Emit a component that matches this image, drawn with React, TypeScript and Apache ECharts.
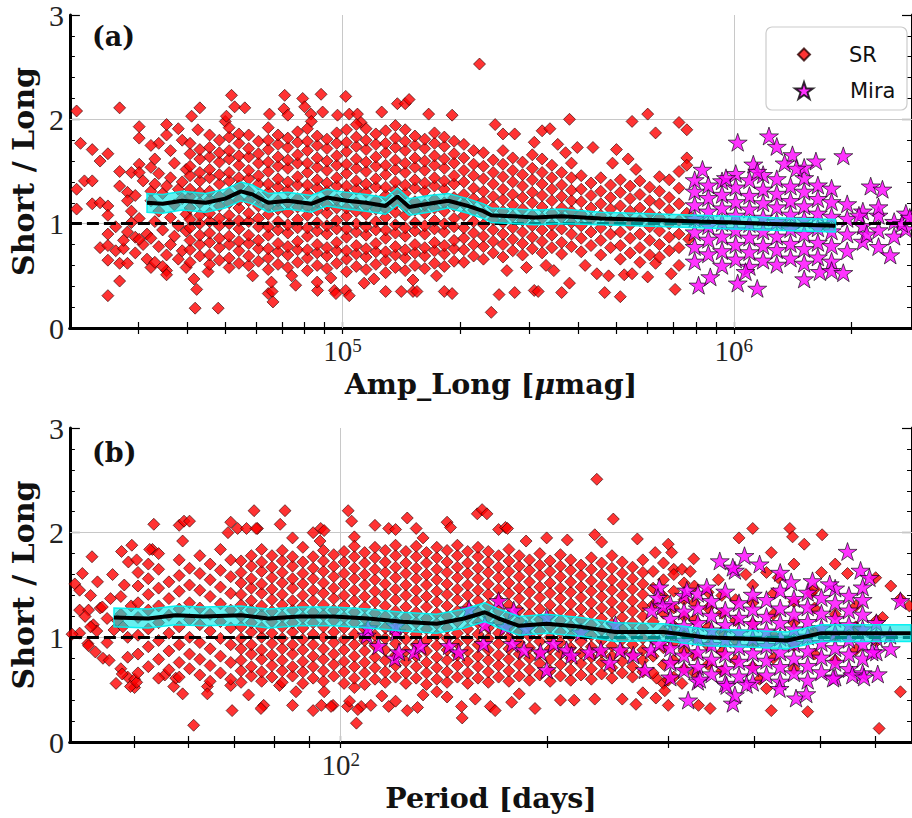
import React, { useEffect, useRef } from 'react';
import * as echarts from 'echarts';

// ---------- Panel (a): x = log10(Amp_Long [μmag]), y = Short / Long ----------
// isolated / edge points, flat pairs [log10(x), y, ...]
const srA_out = [
  4.32,2.08, 4.33,1.77, 4.32,1.33, 4.32,1.14, 4.43,2.11, 4.36,1.71, 4.40,1.67, 4.38,1.60, 4.34,1.41, 4.36,1.41,
  4.36,1.19, 4.38,1.20, 4.40,1.17, 4.40,1.08, 4.38,0.77, 4.40,0.79, 4.40,0.90, 4.42,0.74, 4.44,0.76, 4.40,0.65,
  4.43,0.62, 4.43,0.45, 4.40,0.31, 4.43,1.50, 4.43,1.36, 4.45,1.30, 4.45,1.22, 4.42,0.97, 4.45,0.92, 4.44,0.84,
  4.48,1.93, 4.48,1.82, 4.48,1.57, 4.46,1.49, 4.48,1.49, 4.49,1.41, 4.47,1.27, 4.46,1.12, 4.51,1.54, 4.51,0.58,
  4.53,1.77, 4.55,1.85, 4.55,0.55, 4.55,0.51, 4.48,1.05, 4.47,0.87, 4.49,0.80, 4.47,0.72, 4.50,0.66, 4.45,0.62,
  4.51,1.31, 4.51,1.22, 4.48,0.85, 4.50,0.90, 4.46,1.01,
  4.51,1.75, 4.52,1.62, 4.53,1.48, 4.52,1.38, 4.54,1.29, 4.53,1.12, 4.52,1.02, 4.54,0.94, 4.51,0.86, 4.53,0.78,
  4.55,0.70, 4.52,0.63, 4.56,1.70, 4.57,1.58, 4.56,1.44, 4.58,1.33, 4.57,1.18, 4.56,1.06, 4.58,0.98, 4.57,0.88,
  4.56,0.80, 4.58,0.66, 4.59,1.80, 4.60,1.52, 4.59,1.24, 4.60,1.09, 4.59,0.74, 4.60,0.58, 4.55,1.95, 4.58,1.91,
  4.54,0.59, 4.59,1.40, 4.55,1.36, 4.60,0.93,
  4.62,0.47, 4.623,0.19, 4.627,0.37, 4.614,2.03, 4.635,2.11, 4.63,1.90, 4.656,0.54, 4.682,0.19, 4.70,1.98, 4.703,2.03,
  4.716,2.23, 4.724,2.12, 4.75,2.11, 4.77,0.50, 4.813,2.05, 4.81,0.33, 4.82,0.35, 4.822,0.25, 4.818,0.44, 4.852,2.23,
  4.85,2.10, 4.86,2.04, 4.88,0.41, 4.87,0.50, 4.898,2.20, 4.903,2.12, 4.919,2.05, 4.92,1.98, 4.936,0.36, 4.935,0.44,
  4.945,2.24, 4.949,2.07, 4.979,0.36, 4.983,0.33, 4.987,2.04, 4.97,0.48, 5.008,2.22, 5.017,2.05, 5.038,2.05, 5.008,0.36,
  5.017,0.31, 5.047,1.97, 5.055,0.43, 5.10,2.07, 5.08,0.47, 5.11,0.35, 5.14,2.15, 5.16,2.15, 5.17,2.19, 5.15,0.35,
  5.18,0.35, 5.19,0.35, 5.18,0.46, 5.22,2.05, 5.24,0.50, 5.26,0.35, 5.28,0.33, 5.28,2.04, 5.35,2.53,
  5.38,0.15, 5.39,1.95, 5.41,1.86, 5.40,0.32, 5.44,1.86, 5.44,0.34, 5.42,0.55, 5.49,0.36, 5.50,0.35, 5.47,0.58,
  5.49,1.78, 5.51,1.89, 5.53,1.91, 5.52,0.60, 5.54,0.55, 5.55,1.76, 5.58,2.00, 5.56,0.34, 5.58,0.43, 5.57,1.68,
  5.60,1.73, 5.64,1.73, 5.62,0.60, 5.65,0.52, 5.67,0.34, 5.68,0.50, 5.70,1.71, 5.69,1.58, 5.71,0.30, 5.72,0.51,
  5.74,0.52, 5.74,1.98, 5.73,1.62, 5.75,1.52, 5.78,2.05, 5.80,1.87, 5.78,0.49, 5.80,0.62, 5.84,0.52, 5.86,0.60,
  5.86,1.97, 5.88,1.90, 5.88,1.63, 5.88,1.56, 5.85,0.37, 5.88,1.10, 5.885,0.85,
];
// dense body, rows of [log10(x), y1, y2, ...]
const srA_core = [
  [4.61, 0.63,0.75,0.84,0.96,1.04,1.15,1.26,1.33,1.46,1.55,1.67,1.77],
  [4.635, 0.69,0.80,0.89,1.00,1.08,1.20,1.30,1.41,1.49,1.62,1.71],
  [4.66, 0.61,0.70,0.82,0.91,1.02,1.10,1.23,1.31,1.44,1.52,1.64,1.73,1.85],
  [4.685, 0.65,0.77,0.86,0.98,1.05,1.17,1.26,1.38,1.47,1.59,1.68,1.80],
  [4.71, 0.58,0.67,0.80,0.88,1.00,1.08,1.20,1.29,1.41,1.49,1.62,1.70,1.83,1.92],
  [4.735, 0.62,0.74,0.83,0.95,1.03,1.15,1.23,1.36,1.44,1.56,1.65,1.77,1.86],
  [4.76, 0.60,0.69,0.81,0.89,1.02,1.10,1.22,1.31,1.43,1.51,1.64,1.72,1.85],
  [4.785, 0.64,0.76,0.84,0.97,1.05,1.17,1.25,1.38,1.46,1.58,1.67,1.79],
  [4.81, 0.56,0.67,0.76,0.89,0.97,1.09,1.17,1.30,1.38,1.50,1.59,1.71,1.80,1.92],
  [4.835, 0.61,0.73,0.81,0.94,1.02,1.14,1.22,1.35,1.43,1.55,1.64,1.76,1.85],
  [4.86, 0.58,0.70,0.78,0.91,0.99,1.11,1.20,1.32,1.40,1.53,1.61,1.73,1.82],
  [4.885, 0.63,0.75,0.83,0.96,1.04,1.16,1.24,1.37,1.45,1.58,1.66,1.78,1.88],
  [4.91, 0.55,0.67,0.75,0.88,0.96,1.08,1.16,1.29,1.37,1.49,1.58,1.70,1.79,1.91],
  [4.935, 0.60,0.72,0.80,0.93,1.01,1.13,1.21,1.34,1.42,1.54,1.63,1.75,1.84],
  [4.96, 0.57,0.69,0.77,0.90,0.98,1.10,1.18,1.31,1.39,1.51,1.60,1.72,1.81],
  [4.985, 0.62,0.74,0.82,0.95,1.03,1.15,1.23,1.36,1.44,1.56,1.65,1.77,1.87],
  [5.01, 0.54,0.66,0.74,0.87,0.95,1.07,1.15,1.28,1.36,1.48,1.57,1.69,1.78,1.90],
  [5.035, 0.59,0.71,0.79,0.92,1.00,1.12,1.20,1.33,1.41,1.53,1.62,1.74,1.83,1.95],
  [5.06, 0.56,0.68,0.76,0.89,0.97,1.09,1.17,1.30,1.38,1.50,1.59,1.71,1.80,1.91],
  [5.085, 0.61,0.73,0.81,0.94,1.02,1.14,1.22,1.35,1.43,1.55,1.64,1.76,1.86],
  [5.11, 0.53,0.65,0.73,0.86,0.94,1.06,1.14,1.27,1.35,1.47,1.56,1.68,1.77,1.89],
  [5.135, 0.58,0.70,0.78,0.91,0.99,1.11,1.19,1.32,1.40,1.52,1.61,1.73,1.82,1.94],
  [5.16, 0.55,0.67,0.75,0.88,0.96,1.08,1.16,1.29,1.37,1.49,1.58,1.70,1.79,1.90],
  [5.185, 0.60,0.72,0.80,0.93,1.01,1.13,1.21,1.34,1.42,1.54,1.63,1.75,1.84],
  [5.21, 0.57,0.69,0.77,0.90,0.98,1.10,1.18,1.31,1.39,1.51,1.60,1.72,1.81],
  [5.235, 0.62,0.74,0.82,0.95,1.03,1.15,1.23,1.36,1.44,1.56,1.65,1.77,1.87],
  [5.26, 0.59,0.71,0.79,0.92,1.00,1.12,1.20,1.33,1.41,1.53,1.62,1.74,1.83],
  [5.285, 0.64,0.76,0.84,0.97,1.05,1.17,1.25,1.38,1.46,1.58,1.67,1.79],
  [5.31, 0.63,0.75,0.86,0.96,1.08,1.19,1.28,1.40,1.51,1.63,1.76],
  [5.335, 0.69,0.80,0.91,1.02,1.13,1.24,1.34,1.46,1.57,1.70],
  [5.36, 0.66,0.78,0.88,0.99,1.10,1.21,1.31,1.43,1.55,1.68],
  [5.385, 0.72,0.83,0.94,1.04,1.16,1.26,1.38,1.49,1.61],
  [5.41, 0.68,0.80,0.90,1.01,1.12,1.23,1.33,1.45,1.57,1.70],
  [5.435, 0.74,0.85,0.96,1.07,1.18,1.28,1.40,1.51,1.63],
  [5.46, 0.70,0.81,0.92,1.03,1.14,1.25,1.36,1.47,1.59],
  [5.485, 0.76,0.87,0.98,1.08,1.20,1.30,1.42,1.53,1.66],
  [5.51, 0.72,0.83,0.94,1.05,1.16,1.27,1.38,1.49,1.62],
  [5.535, 0.77,0.89,0.99,1.10,1.22,1.33,1.44,1.56],
  [5.56, 0.71,0.82,0.95,1.06,1.15,1.26,1.37,1.49],
  [5.585, 0.78,0.90,1.01,1.12,1.22,1.32,1.44,1.58],
  [5.61, 0.73,0.86,0.98,1.09,1.21,1.33,1.46],
  [5.635, 0.79,0.92,1.04,1.15,1.27,1.39],
  [5.66, 0.70,0.84,0.96,1.08,1.19,1.31,1.44],
  [5.685, 0.77,0.90,1.02,1.14,1.25,1.37],
  [5.71, 0.66,0.79,0.92,1.05,1.17,1.30,1.42],
  [5.735, 0.72,0.86,0.99,1.12,1.24,1.36],
  [5.76, 0.63,0.77,0.90,1.03,1.15,1.28,1.41],
  [5.785, 0.70,0.84,0.97,1.10,1.22,1.35],
  [5.81, 0.68,0.80,0.93,1.06,1.19,1.31,1.45],
  [5.835, 0.74,0.87,1.00,1.13,1.25,1.42],
  [5.86, 0.77,0.90,1.03,1.19,1.34,1.50],
];
const miraA_core = [
  [5.90, 0.64,0.78,0.92,1.05,1.18,1.31,1.42],
  [5.935, 0.71,0.85,0.98,1.12,1.25,1.37],
  [5.97, 0.60,0.74,0.88,1.01,1.15,1.28,1.41],
  [6.005, 0.66,0.80,0.94,1.08,1.21,1.35,1.48],
  [6.04, 0.59,0.73,0.87,1.00,1.14,1.27,1.42],
  [6.075, 0.65,0.79,0.93,1.06,1.20,1.33,1.47],
  [6.11, 0.61,0.75,0.88,1.02,1.16,1.29,1.43],
  [6.145, 0.67,0.81,0.95,1.09,1.22,1.36],
  [6.18, 0.62,0.76,0.90,1.04,1.17,1.31,1.44],
  [6.215, 0.68,0.82,0.96,1.10,1.24,1.37],
  [6.25, 0.64,0.79,0.93,1.07,1.21,1.34],
  [6.29, 0.74,0.90,1.05,1.19],
  [6.33, 0.83,0.98,1.12],
  [6.37, 0.78,0.94,1.08],
  [6.41, 0.88,1.02],
  [6.44, 0.95,1.10],
];
const miraA_out = [
  6.01,1.78, 6.09,1.84, 6.11,1.74, 6.15,1.66, 6.21,1.60, 6.18,1.54, 6.28,1.65, 6.35,1.36, 6.38,1.33, 6.37,1.16,
  6.40,0.70, 5.98,1.44, 6.05,1.57, 6.06,1.50, 5.91,0.41, 5.94,0.49, 6.01,0.43, 6.06,0.38, 6.18,0.47, 6.22,0.54,
  6.25,0.55, 6.28,0.53, 6.03,0.54, 6.43,1.00, 6.45,1.06, 6.32,1.08, 6.34,0.90, 5.92,1.52, 6.13,1.58, 6.16,1.53,
];
// running mean (a)
const avgA_L = [4.50,4.54,4.59,4.65,4.70,4.74,4.77,4.81,4.86,4.92,4.96,5.01,5.06,5.11,5.14,5.17,5.22,5.27,5.32,5.36,5.38,5.44,5.49,5.56,5.66,5.75,5.83,5.91,6.00,6.08,6.17,6.26];
const avgA_y = [1.20,1.19,1.22,1.20,1.24,1.31,1.28,1.20,1.22,1.19,1.25,1.22,1.20,1.17,1.26,1.16,1.19,1.22,1.17,1.12,1.08,1.07,1.06,1.07,1.05,1.04,1.03,1.02,1.01,1.00,0.99,0.98];
const halfA = [0.09,0.09,0.09,0.09,0.09,0.09,0.09,0.09,0.08,0.08,0.08,0.08,0.08,0.08,0.08,0.08,0.08,0.07,0.07,0.07,0.07,0.07,0.07,0.07,0.06,0.06,0.06,0.06,0.06,0.06,0.06,0.06];

// ---------- Panel (b): x = log10(Period [days]) ----------
const srB_out = [
  1.613,1.51, 1.624,1.61, 1.62,1.26, 1.633,1.26, 1.62,1.45, 1.62,1.04, 1.638,1.77, 1.646,1.53, 1.64,1.12, 1.645,1.06,
  1.632,0.94, 1.654,0.80, 1.663,0.78, 1.65,1.28, 1.66,1.18, 1.67,1.07, 1.668,1.60, 1.681,1.82, 1.696,1.88, 1.68,1.39,
  1.685,1.50, 1.68,1.22, 1.683,1.10, 1.673,0.56, 1.69,0.62, 1.70,0.52, 1.70,0.60, 1.68,0.70, 1.69,0.81, 1.636,1.40,
  1.653,1.29, 1.665,1.37, 1.609,1.03, 1.636,1.10, 1.633,0.92, 1.643,0.86, 1.682,0.65, 1.694,0.53, 1.691,1.72,
  1.703,1.74, 1.628,1.20, 1.66,0.95, 1.69,1.00, 1.675,1.16, 1.695,1.30,
  1.728,2.08, 1.726,1.84, 1.765,2.07, 1.772,2.11, 1.78,2.11, 1.77,1.92, 1.84,2.10, 1.85,2.04, 1.874,2.21, 1.879,2.04,
  1.919,2.21, 1.912,2.08, 2.011,2.21, 2.016,2.11, 1.96,2.00, 1.97,1.92, 1.836,2.00, 1.863,2.04, 1.877,2.04, 1.971,2.04,
  1.976,2.02, 1.722,1.84, 2.097,2.14, 2.155,2.10, 2.16,2.05, 2.199,2.18, 2.206,2.22, 2.213,2.18, 2.05,2.07, 2.07,2.04,
  2.08,2.03, 2.11,2.04, 2.23,2.03, 2.24,2.05, 2.37,1.98, 2.38,1.91, 2.30,1.95, 2.33,1.93, 2.27,1.92, 2.12,1.95,
  2.02,1.96, 1.93,1.95, 2.373,2.51, 2.397,2.13, 2.432,1.94, 2.243,2.04,
  1.786,0.16, 1.77,0.46, 1.757,0.53, 1.806,0.53, 1.806,0.46, 1.842,0.30, 1.866,0.45, 1.888,0.35, 1.93,0.35, 1.96,0.30,
  1.972,0.35, 1.989,0.35, 2.023,0.18, 2.01,0.34, 2.03,0.34, 1.703,0.57, 1.744,0.64, 1.76,0.61, 1.84,0.54, 1.884,0.32,
  1.911,0.54, 1.935,0.48, 1.986,0.34, 1.976,0.48, 2.013,0.39, 2.025,0.31, 2.02,0.52, 2.177,0.23, 2.176,0.34, 2.155,0.43,
  2.097,0.30, 2.112,0.33, 2.07,0.34, 2.08,0.39, 2.196,0.41, 2.218,0.34, 2.225,0.30, 2.249,0.38, 2.283,0.32, 2.32,0.40,
  2.34,0.40, 2.37,0.41, 2.41,0.41, 2.43,0.36, 2.44,0.47, 2.459,0.42, 2.47,0.56, 2.46,0.61, 2.044,0.35, 2.12,0.45,
  2.26,0.46, 2.14,0.48, 2.06,0.44,
  2.600,2.04, 2.654,2.04, 2.658,1.96, 2.701,1.98, 2.675,1.89, 2.58,1.95, 2.477,1.89, 2.482,1.81, 2.458,1.81, 2.514,1.75,
  2.627,1.81, 2.485,1.65, 2.497,1.65, 2.509,1.63, 2.62,1.62, 2.637,1.57, 2.70,1.62, 2.738,1.61, 2.779,1.57, 2.801,1.49,
  2.789,1.19, 2.685,1.42, 2.815,0.48, 2.784,0.13, 2.68,0.29, 2.627,0.30, 2.538,0.32, 2.521,0.35, 2.477,0.35, 2.62,0.51,
  2.61,0.60, 2.477,0.59, 2.497,0.56, 2.472,0.49, 2.828,1.30, 2.815,1.37, 2.55,1.55, 2.59,1.60, 2.66,1.70, 2.72,1.70,
];
const srB_core = [
  [1.705, 0.66,0.84,1.02,1.19,1.33,1.49,1.62],
  [1.72, 0.72,0.91,1.08,1.26,1.41,1.56,1.70],
  [1.735, 0.61,0.79,0.97,1.14,1.30,1.47,1.65,1.80],
  [1.75, 0.69,0.87,1.04,1.21,1.37,1.53],
  [1.765, 0.62,0.76,0.93,1.10,1.27,1.44,1.59,1.74],
  [1.78, 0.70,0.84,1.00,1.17,1.33,1.50,1.66],
  [1.795, 0.64,0.79,0.95,1.12,1.28,1.45,1.61,1.78],
  [1.81, 0.58,0.73,0.89,1.06,1.22,1.39,1.55,1.70],
  [1.825, 0.66,0.82,0.99,1.15,1.32,1.48,1.64,1.84],
  [1.84, 0.60,0.76,0.93,1.09,1.26,1.42,1.58,1.74],
  [1.855, 0.57,0.68,0.78,0.89,0.99,1.10,1.20,1.31,1.41,1.52,1.62,1.73],
  [1.87, 0.63,0.72,0.84,0.93,1.05,1.14,1.26,1.35,1.47,1.56,1.68,1.78],
  [1.885, 0.58,0.67,0.79,0.88,1.00,1.09,1.21,1.30,1.42,1.51,1.63,1.72,1.84],
  [1.90, 0.62,0.73,0.83,0.94,1.04,1.15,1.25,1.36,1.46,1.57,1.67,1.78],
  [1.915, 0.57,0.68,0.78,0.89,0.99,1.10,1.20,1.31,1.41,1.52,1.62,1.73,1.83],
  [1.93, 0.63,0.72,0.84,0.93,1.05,1.14,1.26,1.35,1.47,1.56,1.68,1.77],
  [1.945, 0.56,0.67,0.77,0.88,0.98,1.09,1.19,1.30,1.40,1.51,1.61,1.72,1.86],
  [1.96, 0.61,0.72,0.82,0.93,1.03,1.14,1.24,1.35,1.45,1.56,1.66,1.77],
  [1.975, 0.58,0.68,0.79,0.89,1.00,1.10,1.21,1.31,1.42,1.52,1.63,1.73,1.83],
  [1.99, 0.63,0.74,0.84,0.95,1.05,1.16,1.26,1.37,1.47,1.58,1.68,1.79],
  [2.005, 0.56,0.67,0.77,0.88,0.98,1.09,1.19,1.30,1.40,1.51,1.61,1.72,1.82],
  [2.02, 0.61,0.72,0.82,0.93,1.03,1.14,1.24,1.35,1.45,1.56,1.66,1.77,1.87],
  [2.035, 0.55,0.66,0.76,0.87,0.97,1.08,1.18,1.29,1.39,1.50,1.60,1.71,1.81],
  [2.05, 0.60,0.71,0.81,0.92,1.02,1.13,1.23,1.34,1.44,1.55,1.65,1.76,1.86],
  [2.065, 0.57,0.67,0.78,0.88,0.99,1.09,1.20,1.30,1.41,1.51,1.62,1.72,1.83],
  [2.08, 0.62,0.73,0.83,0.94,1.04,1.15,1.25,1.36,1.46,1.57,1.67,1.78,1.88],
  [2.095, 0.56,0.66,0.77,0.87,0.98,1.08,1.19,1.29,1.40,1.50,1.61,1.71,1.82],
  [2.11, 0.61,0.72,0.82,0.93,1.03,1.14,1.24,1.35,1.45,1.56,1.66,1.77,1.87],
  [2.125, 0.55,0.66,0.76,0.87,0.97,1.08,1.18,1.29,1.39,1.50,1.60,1.71,1.81],
  [2.14, 0.60,0.71,0.81,0.92,1.02,1.13,1.23,1.34,1.44,1.55,1.65,1.76,1.86],
  [2.155, 0.57,0.67,0.78,0.88,0.99,1.09,1.20,1.30,1.41,1.51,1.62,1.72,1.83],
  [2.17, 0.62,0.73,0.83,0.94,1.04,1.15,1.25,1.36,1.46,1.57,1.67,1.78,1.88],
  [2.185, 0.56,0.66,0.77,0.87,0.98,1.08,1.19,1.29,1.40,1.50,1.61,1.71,1.82],
  [2.20, 0.61,0.72,0.82,0.93,1.03,1.14,1.24,1.35,1.45,1.56,1.66,1.77,1.86],
  [2.215, 0.57,0.67,0.78,0.88,0.99,1.09,1.20,1.30,1.41,1.51,1.62,1.72,1.82],
  [2.23, 0.62,0.73,0.83,0.94,1.04,1.15,1.25,1.36,1.46,1.57,1.67,1.78],
  [2.245, 0.58,0.68,0.79,0.89,1.00,1.10,1.21,1.31,1.42,1.52,1.63,1.73,1.84],
  [2.26, 0.63,0.74,0.84,0.95,1.05,1.16,1.26,1.37,1.47,1.58,1.68,1.78],
  [2.275, 0.59,0.69,0.80,0.90,1.01,1.11,1.22,1.32,1.43,1.53,1.64,1.74],
  [2.29, 0.64,0.75,0.85,0.96,1.06,1.17,1.27,1.38,1.48,1.59,1.69,1.80],
  [2.305, 0.58,0.68,0.79,0.89,1.00,1.10,1.21,1.31,1.42,1.52,1.63,1.73],
  [2.32, 0.63,0.74,0.84,0.95,1.05,1.16,1.26,1.37,1.47,1.58,1.68,1.79],
  [2.335, 0.59,0.69,0.80,0.90,1.01,1.11,1.22,1.32,1.43,1.53,1.64,1.74],
  [2.35, 0.64,0.75,0.85,0.96,1.06,1.17,1.27,1.38,1.48,1.59,1.69],
  [2.365, 0.60,0.70,0.81,0.91,1.02,1.12,1.23,1.33,1.44,1.54,1.65,1.76],
  [2.38, 0.65,0.76,0.86,0.97,1.07,1.18,1.28,1.39,1.49,1.60,1.71],
  [2.395, 0.61,0.71,0.82,0.92,1.03,1.13,1.24,1.34,1.45,1.55,1.66,1.78],
  [2.41, 0.66,0.77,0.87,0.98,1.08,1.19,1.29,1.40,1.50,1.61,1.72],
  [2.425, 0.62,0.72,0.83,0.93,1.04,1.14,1.25,1.35,1.46,1.56,1.67],
  [2.44, 0.67,0.78,0.88,0.99,1.09,1.20,1.30,1.41,1.51,1.62,1.74],
  [2.455, 0.66,0.82,0.98,1.15,1.31,1.47,1.63],
  [2.47, 0.74,0.90,1.06,1.23,1.39,1.55,1.71],
  [2.485, 0.62,0.78,0.95,1.11,1.28,1.44,1.60],
  [2.50, 0.70,0.87,1.03,1.20,1.36,1.52],
  [2.515, 0.66,0.83,1.00,1.17,1.33,1.49],
  [2.535, 0.74,0.92,1.10,1.28,1.43],
  [2.555, 0.68,0.86,1.05,1.23,1.40],
  [2.575, 0.78,0.97,1.16,1.36],
  [2.60, 0.72,0.93,1.13,1.33,1.50],
  [2.63, 0.80,1.02,1.22,1.42],
  [2.66, 0.70,0.92,1.14,1.34],
  [2.69, 0.84,1.06,1.28,1.46],
  [2.72, 0.78,1.00,1.22],
  [2.75, 0.88,1.10,1.30],
  [2.78, 0.96,1.16],
];
const miraB_core = [
  [2.48, 0.62,0.76,0.90,1.04,1.18,1.32],
  [2.50, 0.69,0.83,0.97,1.11,1.25,1.40],
  [2.52, 0.58,0.72,0.86,1.00,1.14,1.28,1.42],
  [2.54, 0.65,0.79,0.93,1.07,1.21,1.35],
  [2.56, 0.56,0.70,0.84,0.98,1.12,1.26,1.44],
  [2.58, 0.63,0.77,0.91,1.05,1.19,1.33],
  [2.60, 0.57,0.71,0.85,0.99,1.13,1.27,1.41],
  [2.62, 0.64,0.78,0.92,1.06,1.20,1.36],
  [2.64, 0.58,0.72,0.86,1.00,1.14,1.28,1.45],
  [2.66, 0.66,0.80,0.94,1.08,1.22,1.37],
  [2.68, 0.59,0.73,0.87,1.01,1.15,1.29,1.43],
  [2.70, 0.67,0.81,0.95,1.09,1.23,1.38],
  [2.72, 0.62,0.76,0.90,1.04,1.18,1.33,1.47],
  [2.74, 0.70,0.84,0.98,1.12,1.26,1.40],
  [2.76, 0.66,0.80,0.94,1.08,1.22,1.36],
  [2.78, 0.86,1.00,1.14],
];
const miraB_out = [
  2.038,1.02, 2.055,0.92, 2.079,0.80, 2.081,1.05, 2.085,0.86, 2.107,0.86, 2.116,0.92, 2.158,0.92, 2.172,0.86, 2.187,1.27,
  2.23,1.35, 2.252,1.26, 2.30,1.19, 2.21,1.12, 2.24,1.10, 2.27,1.08, 2.208,0.94, 2.25,0.94, 2.267,0.88, 2.291,0.86,
  2.31,0.94, 2.329,0.88, 2.336,0.83, 2.362,0.86, 2.379,0.88, 2.392,0.76, 2.407,0.88, 2.426,0.83, 2.443,0.69, 2.452,0.88,
  2.464,0.94, 2.30,0.69, 2.464,1.48, 2.462,1.38, 2.469,1.30, 2.453,1.26, 2.08,1.11, 2.04,1.09, 2.35,1.05, 2.40,1.12,
  2.738,1.82, 2.588,1.78, 2.552,1.73, 2.574,1.64, 2.571,1.67, 2.757,1.64, 2.77,1.57, 2.815,1.35, 2.656,1.53, 2.687,1.54,
  2.712,1.51, 2.504,1.45, 2.533,1.48, 2.782,0.65, 2.506,0.40, 2.571,0.37, 2.574,0.45, 2.663,0.42, 2.678,0.46, 2.639,0.51,
  2.523,0.60, 2.562,0.54, 2.591,0.55, 2.717,0.61, 2.745,0.64, 2.762,0.62, 2.801,0.89, 2.774,0.86, 2.61,1.70, 2.64,1.62,
  2.76,1.48, 2.80,1.02,
];
const avgB_L = [1.67,1.72,1.76,1.80,1.855,1.895,1.94,1.99,2.04,2.09,2.14,2.18,2.21,2.23,2.26,2.30,2.35,2.40,2.47,2.53,2.58,2.65,2.70,2.77,2.83];
const avgB_y = [1.19,1.18,1.21,1.20,1.21,1.18,1.20,1.20,1.18,1.15,1.13,1.18,1.24,1.18,1.11,1.13,1.10,1.05,1.05,1.00,0.99,0.97,1.04,1.04,1.04];
const halfB = [0.09,0.09,0.09,0.09,0.09,0.09,0.09,0.09,0.09,0.09,0.09,0.09,0.09,0.09,0.09,0.09,0.09,0.09,0.08,0.08,0.08,0.08,0.08,0.08,0.08];

// axis ticks
const xTicksA = [3e4,4e4,5e4,6e4,7e4,8e4,9e4,1e5,2e5,3e5,4e5,5e5,6e5,7e5,8e5,9e5,1e6,2e6];
const xLabelsA = [1e5, 1e6];
const xRangeA = [20085, 2.855e6];
const xTicksB = [50,60,70,80,90,100,200,300,400,500,600];
const xLabelsB = [100];
const xRangeB = [40.35, 679];

const STAR = 'path://M50 0 L61.8 35.1 L98.9 35.1 L68.9 56.9 L80.3 92.1 L50 70.4 L19.7 92.1 L31.1 56.9 L1.1 35.1 L38.2 35.1 Z';

const fromPairs = (flat: number[]) => {
  const out: number[][] = [];
  for (let i = 0; i < flat.length; i += 2) out.push([Math.pow(10, flat[i]), flat[i + 1]]);
  return out;
};
const fromCols = (rows: number[][]) => {
  const out: number[][] = [];
  rows.forEach((r) => { for (let i = 1; i < r.length; i++) out.push([Math.pow(10, r[0]), r[i]]); });
  return out;
};

const SERIF = 'DejaVu Serif';
const NUMF = 'Liberation Serif';

function xAxes(grid: number, range: number[], ticks: number[], labels: number[], name: string) {
  const common = {
    gridIndex: grid, type: 'log', min: range[0], max: range[1],
    axisLine: { lineStyle: { color: '#000', width: 3 } },
    axisTick: { inside: true, length: 6, customValues: ticks, lineStyle: { color: '#000', width: 1.2 } },
    splitLine: { show: false },
  };
  return [
    {
      ...common, position: 'bottom',
      axisLabel: {
        customValues: labels, margin: 8,
        formatter: (v: number) => `{b|10}{s|${Math.round(Math.log10(v))}}`,
        rich: {
          b: { fontFamily: NUMF, fontSize: 29, color: '#222', verticalAlign: 'bottom' },
          s: { fontFamily: NUMF, fontSize: 19, color: '#222', verticalAlign: 'top' },
        },
      },
      name, nameLocation: 'middle', nameGap: 41,
      nameTextStyle: {
        fontFamily: SERIF, fontWeight: 'bold', fontSize: 28.5, color: '#111',
        rich: { i: { fontFamily: SERIF, fontWeight: 'bold', fontStyle: 'italic', fontSize: 28.5, color: '#111' } },
      },
    },
    { ...common, position: 'top', axisLabel: { show: false } },
  ];
}
function yAxes(grid: number) {
  const common = {
    gridIndex: grid, type: 'value', min: 0, max: 3, interval: 1,
    axisLine: { lineStyle: { color: '#000', width: 3 } },
    axisTick: { inside: true, length: 10, lineStyle: { color: '#000', width: 1.2 } },
    minorTick: { show: true, splitNumber: 5, length: 5, lineStyle: { color: '#000', width: 1 } },
    splitLine: { show: false },
  };
  return [
    {
      ...common, position: 'left',
      axisLabel: { fontFamily: NUMF, fontSize: 30, color: '#222', margin: 6 },
      name: 'Short / Long', nameLocation: 'middle', nameGap: 27, nameRotate: 90,
      nameTextStyle: { fontFamily: SERIF, fontWeight: 'bold', fontSize: 30, color: '#111' },
    },
    { ...common, position: 'right', axisLabel: { show: false } },
  ];
}

function panelSeries(ax: number, sr: number[][], mira: number[][], avgL: number[], avgY: number[], half: number[], gridX: number[]) {
  const mean = avgL.map((l, i) => [Math.pow(10, l), avgY[i]]);
  return [
    {
      type: 'scatter', name: 'SR', xAxisIndex: ax, yAxisIndex: ax, data: sr, z: 2,
      symbol: 'diamond', symbolSize: 12,
      itemStyle: { color: '#ff0000', borderColor: '#2a0000', borderWidth: 0.8 },
      markLine: {
        z: 1, silent: true, symbol: 'none', label: { show: false },
        lineStyle: { color: '#c8c8c8', width: 1, type: 'solid' },
        data: [...gridX.map((v) => ({ xAxis: v })), { yAxis: 1 }, { yAxis: 2 }],
      },
    },
    {
      type: 'scatter', name: 'Mira', xAxisIndex: ax, yAxisIndex: ax, data: mira, z: 2,
      symbol: STAR, symbolSize: 19, symbolKeepAspect: true,
      itemStyle: { color: '#ff00ff', borderColor: '#000', borderWidth: 0.8 },
      markLine: {
        z: 3, silent: true, symbol: 'none', label: { show: false },
        lineStyle: { color: '#000', width: 3, type: [12, 5] },
        data: [{ yAxis: 1 }],
      },
    },
    {
      type: 'custom', name: 'band' + ax, xAxisIndex: ax, yAxisIndex: ax, z: 4, silent: true,
      data: [mean[0]],
      renderItem: (params: any, api: any) => {
        const up = avgL.map((l, i) => api.coord([Math.pow(10, l), avgY[i] + half[i]]));
        const lo = avgL.map((l, i) => api.coord([Math.pow(10, l), avgY[i] - half[i]])).reverse();
        return {
          type: 'polygon',
          shape: { points: up.concat(lo) },
          style: { fill: 'rgba(0,230,230,0.6)', stroke: 'rgba(0,240,240,0.95)', lineWidth: 1.5 },
        };
      },
    },
    {
      type: 'line', name: 'mean' + ax, xAxisIndex: ax, yAxisIndex: ax, data: mean, z: 5,
      showSymbol: false, symbol: 'none', lineStyle: { color: '#000', width: 4 },
    },
  ];
}

export default function App() {
  const ref = useRef<HTMLDivElement>(null);
  useEffect(() => {
    const chart = echarts.init(ref.current as HTMLDivElement, null, { renderer: 'svg' });
    const srA = [...fromPairs(srA_out), ...fromCols(srA_core)];
    const miraA = [...fromCols(miraA_core), ...fromPairs(miraA_out)];
    const srB = [...fromPairs(srB_out), ...fromCols(srB_core)];
    const miraB = [...fromCols(miraB_core), ...fromPairs(miraB_out)];
    const xa = xAxes(0, xRangeA, xTicksA, xLabelsA, 'Amp_Long [{i|μ}mag]');
    const xb = xAxes(1, xRangeB, xTicksB, xLabelsB, 'Period [days]');
    const ya = yAxes(0);
    const yb = yAxes(1);
    chart.setOption({
      animation: false,
      backgroundColor: '#ffffff',
      grid: [
        { left: 67, top: 13, width: 846, height: 315 },
        { left: 67, top: 428, width: 846, height: 314 },
      ],
      xAxis: [xa[0], xb[0], xa[1], xb[1]],
      yAxis: [ya[0], yb[0], ya[1], yb[1]],
      legend: [
        {
          data: ['SR'], left: 797, top: 44, padding: 0, itemWidth: 12, itemHeight: 12, z: 6,
          textStyle: { fontFamily: 'DejaVu Sans', fontSize: 21, color: '#111', padding: [0, 0, 0, 34] },
        },
        {
          data: ['Mira'], left: 794, top: 80, padding: 0, itemWidth: 18, itemHeight: 18, z: 6,
          textStyle: { fontFamily: 'DejaVu Sans', fontSize: 21, color: '#111', padding: [0, 0, 0, 32] },
        },
      ],
      graphic: [
        {
          type: 'rect', z: 5, shape: { x: 766, y: 27, width: 141, height: 83, r: 6 },
          style: { fill: 'rgba(255,255,255,0.85)', stroke: '#cccccc', lineWidth: 1.2 },
        },
        { type: 'text', z: 6, x: 92, y: 23, style: { text: '(a)', fontFamily: SERIF, fontWeight: 'bold', fontSize: 27, fill: '#111' } },
        { type: 'text', z: 6, x: 92, y: 439, style: { text: '(b)', fontFamily: SERIF, fontWeight: 'bold', fontSize: 27, fill: '#111' } },
      ],
      series: [
        ...panelSeries(0, srA, miraA, avgA_L, avgA_y, halfA, xLabelsA),
        ...panelSeries(1, srB, miraB, avgB_L, avgB_y, halfB, xLabelsB),
      ],
    });
    return () => chart.dispose();
  }, []);
  return <div ref={ref} style={{ position: 'absolute', left: 0, top: 0, width: 912, height: 818, background: '#fff' }} />;
}
